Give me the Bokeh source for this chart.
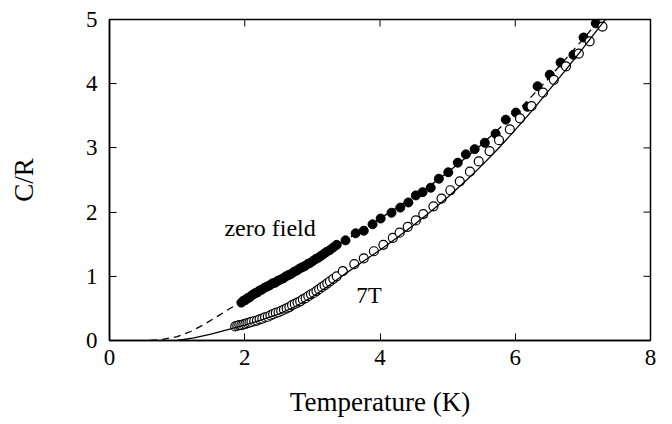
import math
from bokeh.plotting import figure
from bokeh.models import FixedTicker, Label, Range1d
from bokeh.embed import file_html
from bokeh.resources import INLINE

x_ticks = [0, 2, 4, 6, 8]
y_ticks = [0, 1, 2, 3, 4, 5]
x_min, x_max = 0, 8
y_min, y_max = 0, 5

# zero field (filled circles)
zf_T = [1.95, 1.98, 2.01, 2.04, 2.07, 2.10, 2.13, 2.16, 2.19, 2.22, 2.25, 2.29, 2.33, 2.37,
        2.41, 2.45, 2.49, 2.53, 2.57, 2.61, 2.65, 2.69, 2.73, 2.77, 2.81, 2.85, 2.89, 2.93,
        2.97, 3.01, 3.05, 3.09, 3.13, 3.17, 3.21, 3.26, 3.31, 3.36,
        3.49, 3.64, 3.76, 3.89, 4.01, 4.17, 4.30, 4.42, 4.53, 4.63, 4.75, 4.87, 5.01, 5.15,
        5.27, 5.40, 5.55, 5.71, 5.86, 6.01, 6.18, 6.33, 6.51, 6.67, 6.86, 7.01, 7.19]
zf_C = [0.59, 0.62, 0.63, 0.66, 0.67, 0.70, 0.72, 0.74, 0.75, 0.78, 0.79, 0.82, 0.84, 0.86,
        0.89, 0.90, 0.93, 0.95, 0.97, 1.00, 1.02, 1.04, 1.07, 1.09, 1.12, 1.14, 1.16, 1.19,
        1.21, 1.24, 1.27, 1.29, 1.32, 1.35, 1.38, 1.41, 1.45, 1.49,
        1.56, 1.67, 1.71, 1.81, 1.90, 1.99, 2.07, 2.15, 2.26, 2.31, 2.38, 2.52, 2.62, 2.77,
        2.90, 2.98, 3.08, 3.22, 3.44, 3.55, 3.64, 3.96, 4.14, 4.33, 4.45, 4.72, 4.94]

# 7 T (open circles)
h7_T = [1.86, 1.89, 1.92, 1.95, 1.98, 2.01, 2.04, 2.07, 2.10, 2.14, 2.18, 2.22, 2.26, 2.30,
        2.34, 2.38, 2.42, 2.46, 2.50, 2.54, 2.58, 2.62, 2.66, 2.70, 2.74, 2.78, 2.82, 2.86,
        2.90, 2.94, 2.98, 3.02, 3.06, 3.10, 3.14, 3.18, 3.22, 3.26, 3.31, 3.36,
        3.45, 3.62, 3.76, 3.91, 4.05, 4.19, 4.29, 4.41, 4.53, 4.64, 4.79, 4.91, 5.04, 5.18,
        5.33, 5.46, 5.62, 5.76, 5.92, 6.07, 6.24, 6.41, 6.57, 6.75, 6.94, 7.10, 7.29]
h7_C = [0.22, 0.23, 0.24, 0.24, 0.25, 0.26, 0.27, 0.28, 0.29, 0.30, 0.31, 0.33, 0.34, 0.36,
        0.37, 0.39, 0.41, 0.43, 0.44, 0.46, 0.48, 0.50, 0.52, 0.55, 0.57, 0.59, 0.61, 0.64,
        0.66, 0.69, 0.72, 0.74, 0.77, 0.80, 0.83, 0.86, 0.89, 0.92, 0.96, 1.00,
        1.08, 1.19, 1.28, 1.39, 1.49, 1.60, 1.68, 1.77, 1.87, 1.97, 2.09, 2.21, 2.34, 2.48,
        2.63, 2.79, 2.95, 3.12, 3.29, 3.46, 3.65, 3.86, 4.06, 4.27, 4.47, 4.66, 4.89]

# model curves
dash_T = [0.6, 0.8, 1.0, 1.2, 1.4, 1.6, 1.8, 2.0, 2.25, 2.5, 2.75, 3.0, 3.25, 3.5, 3.75,
          4.0, 4.25, 4.5, 4.75, 5.0, 5.25, 5.5, 5.75, 6.0, 6.25, 6.5, 6.75, 7.0, 7.25]
dash_C = [0.0, 0.02, 0.06, 0.14, 0.25, 0.38, 0.51, 0.63, 0.78, 0.92, 1.07, 1.23, 1.40, 1.57,
          1.73, 1.90, 2.07, 2.24, 2.42, 2.62, 2.83, 3.05, 3.29, 3.54, 3.81, 4.09, 4.39, 4.69, 5.0]
solid_T = [1.0, 1.25, 1.5, 1.75, 2.0, 2.25, 2.5, 2.75, 3.0, 3.25, 3.5, 3.75, 4.0, 4.25, 4.5,
           4.75, 5.0, 5.25, 5.5, 5.75, 6.0, 6.25, 6.5, 6.75, 7.0, 7.25, 7.35]
solid_C = [0.0, 0.04, 0.10, 0.17, 0.24, 0.32, 0.41, 0.53, 0.68, 0.86, 1.05, 1.23, 1.41, 1.60,
           1.80, 2.01, 2.23, 2.47, 2.72, 2.99, 3.28, 3.58, 3.90, 4.22, 4.55, 4.89, 5.02]

FONT = "Liberation Serif"

p = figure(width=664, height=424, x_range=Range1d(x_min, x_max), y_range=Range1d(y_min, y_max),
           output_backend="svg", toolbar_location=None,
           min_border_left=109, min_border_right=14, min_border_top=19, min_border_bottom=84)
p.grid.visible = False
p.outline_line_color = "black"
p.outline_line_width = 1.5
p.background_fill_color = "white"
p.border_fill_color = "white"

for ax in (p.xaxis[0], p.yaxis[0]):
    ax.axis_line_color = "black"
    ax.axis_line_width = 1.5
    ax.major_tick_in = 7
    ax.major_tick_out = 0
    ax.major_tick_line_color = "black"
    ax.major_tick_line_width = 1
    ax.minor_tick_line_color = None
    ax.major_label_text_font = FONT
    ax.major_label_text_color = "black"
    ax.major_label_text_font_size = "23px"
    ax.axis_label_text_font = FONT
    ax.axis_label_text_font_style = "normal"
    ax.axis_label_text_color = "black"
    ax.axis_label_text_font_size = "27px"

xa = p.xaxis[0]
ya = p.yaxis[0]
xa.ticker = FixedTicker(ticks=x_ticks)
ya.ticker = FixedTicker(ticks=y_ticks)
xa.axis_label = "Temperature (K)"
ya.axis_label = "C/R"
xa.major_label_standoff = 9
xa.axis_label_standoff = 19
ya.major_label_standoff = 12
ya.axis_label_standoff = 44

# mirrored inward ticks on top and right edges (half of each dash is clipped by the frame)
p.scatter(x_ticks, [y_max] * len(x_ticks), marker="dash", size=14, angle=math.pi / 2,
          line_color="black", line_width=1)
p.scatter([x_max] * len(y_ticks), y_ticks, marker="dash", size=14,
          line_color="black", line_width=1)

p.scatter(zf_T, zf_C, marker="circle", size=9, fill_color="black", line_color="black", line_width=1)
p.scatter(h7_T, h7_C, marker="circle", size=9, fill_color="white", line_color="black", line_width=1.2)
p.line(dash_T, dash_C, line_color="black", line_width=1.3, line_dash="7 5")
p.line(solid_T, solid_C, line_color="black", line_width=1.3)

p.add_layout(Label(x=1.70, y=1.76, text="zero field", text_font=FONT, text_font_size="24px",
                   text_color="black", text_baseline="alphabetic", text_align="left"))
p.add_layout(Label(x=3.65, y=0.70, text="7T", text_font=FONT, text_font_size="23px",
                   text_color="black", text_baseline="alphabetic", text_align="left"))

open("out.html", "w").write(file_html(p, INLINE))
